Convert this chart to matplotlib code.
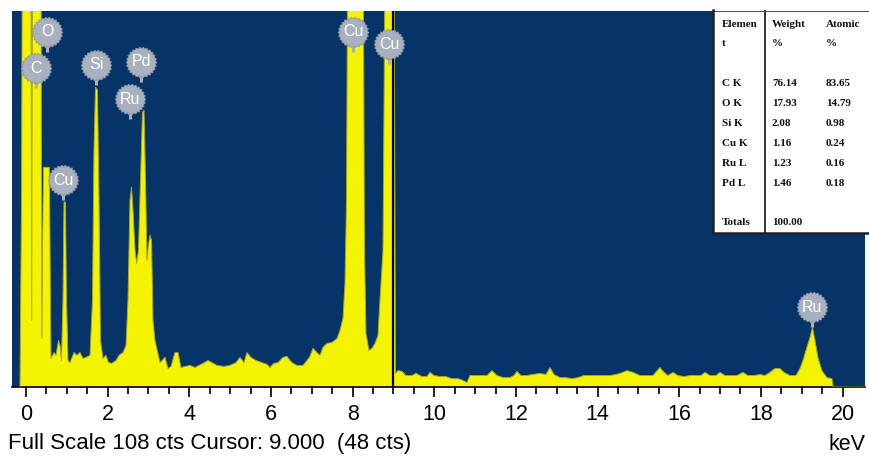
import numpy as np
import matplotlib
matplotlib.use("Agg")
import matplotlib.pyplot as plt
import matplotlib.path as mpath

# ---------------- data ----------------
energy_kev = [-0.147, -0.110, -0.086, 0.120, 0.140, 0.158, 0.367, 0.385, 0.405, 0.430,
              0.522, 0.571, 0.612, 0.686, 0.735, 0.796, 0.833, 0.869, 0.906, 0.931,
              0.967, 0.992, 1.029, 1.078, 1.176, 1.249, 1.323, 1.396, 1.469, 1.568,
              1.629, 1.665, 1.702, 1.751, 1.788, 1.825, 1.886, 1.959, 2.021, 2.106,
              2.204, 2.278, 2.376, 2.449, 2.498, 2.547, 2.584, 2.621, 2.670, 2.711,
              2.755, 2.804, 2.853, 2.890, 2.927, 2.963, 3.000, 3.037, 3.074, 3.110,
              3.159, 3.233, 3.282, 3.331, 3.404, 3.478, 3.551, 3.649, 3.723, 3.796,
              3.894, 4.017, 4.139, 4.335, 4.457, 4.555, 4.678, 4.849, 4.996, 5.143,
              5.241, 5.339, 5.413, 5.511, 5.633, 5.780, 5.902, 5.976, 6.074, 6.172,
              6.294, 6.392, 6.466, 6.539, 6.637, 6.784, 6.882, 6.956, 7.029, 7.127,
              7.201, 7.274, 7.372, 7.494, 7.617, 7.690, 7.764, 7.813, 7.850, 7.886,
              8.254, 8.291, 8.327, 8.401, 8.474, 8.548, 8.621, 8.670, 8.744, 8.805,
              9.013, 9.050, 9.111, 9.209, 9.307, 9.454, 9.552, 9.699, 9.821, 9.895,
              9.993, 10.140, 10.287, 10.433, 10.580, 10.703, 10.801, 10.874, 11.021, 11.168,
              11.291, 11.413, 11.536, 11.683, 11.854, 11.952, 12.025, 12.123, 12.270, 12.417,
              12.589, 12.736, 12.834, 12.932, 13.079, 13.226, 13.373, 13.519, 13.666, 13.813,
              13.960, 14.107, 14.303, 14.450, 14.548, 14.720, 14.867, 15.038, 15.185, 15.357,
              15.528, 15.626, 15.724, 15.846, 15.969, 16.116, 16.263, 16.434, 16.532, 16.630,
              16.752, 16.899, 16.997, 17.120, 17.267, 17.414, 17.561, 17.683, 17.830, 17.977,
              18.099, 18.222, 18.344, 18.467, 18.565, 18.712, 18.859, 18.957, 19.030, 19.104,
              19.202, 19.263, 19.324, 19.397, 19.495, 19.618, 19.740, 19.770, 20.55]
counts = [0.0, 53.6, 140, 140, 19.1, 140, 140, 14.0, 40.0, 63.1,
          63.1, 63.1, 8.2, 9.9, 9.1, 13.4, 11.9, 7.6, 24.9, 53.1,
          53.1, 24.9, 7.6, 7.0, 9.9, 9.1, 9.9, 8.2, 8.5, 9.1,
          24.9, 68.0, 86.1, 85.3, 53.6, 13.4, 8.2, 9.1, 7.0, 6.8,
          7.6, 9.1, 9.9, 11.9, 24.9, 53.6, 57.4, 50.8, 39.3, 35.5,
          39.3, 59.4, 78.9, 79.5, 59.4, 36.4, 40.7, 43.6, 42.1, 19.1,
          13.4, 9.6, 7.0, 7.6, 8.5, 5.3, 5.9, 9.9, 9.9, 5.6,
          5.9, 6.2, 5.6, 6.8, 7.6, 7.0, 6.2, 5.9, 6.2, 7.0,
          8.5, 7.0, 9.9, 8.5, 7.6, 7.0, 6.5, 5.6, 6.8, 7.0,
          8.5, 8.8, 7.6, 6.8, 6.2, 6.2, 7.6, 8.8, 11.1, 9.9,
          9.1, 11.4, 12.5, 12.8, 13.9, 16.2, 19.7, 29.8, 53.6, 140,
          140, 39.3, 15.4, 10.5, 11.1, 12.5, 14.8, 24.9, 39.3, 140,
          140, 3.9, 4.7, 4.5, 3.3, 3.3, 3.9, 3.0, 3.0, 4.2,
          3.3, 3.0, 3.0, 2.4, 2.4, 1.9, 1.3, 3.3, 3.3, 3.3,
          3.3, 4.7, 3.3, 2.7, 2.7, 3.3, 4.5, 3.3, 3.3, 3.6,
          3.9, 3.6, 5.6, 3.6, 2.7, 2.7, 2.4, 2.7, 3.3, 3.3,
          3.3, 3.3, 3.3, 3.6, 3.9, 4.7, 4.2, 3.3, 3.3, 3.3,
          5.6, 4.2, 3.3, 4.2, 3.3, 3.0, 3.3, 3.3, 3.3, 4.2,
          3.3, 3.3, 4.2, 3.3, 3.3, 3.3, 4.2, 3.3, 3.3, 3.6,
          3.3, 4.2, 5.3, 5.3, 4.2, 3.3, 3.3, 5.3, 7.6, 10.5,
          14.2, 17.1, 13.4, 8.5, 4.7, 2.7, 2.4, 0.0, 0.0]

peak_labels = ["C", "O", "Si", "Pd", "Ru", "Cu", "Cu", "Cu", "Ru"]
label_kev = [0.245, 0.514, 1.714, 2.817, 2.547, 0.906, 8.009, 8.890, 19.25]
label_height = [91.6, 102.0, 92.5, 93.4, 82.7, 59.4, 102.0, 98.5, 22.9]

x_ticks = [0, 2, 4, 6, 8, 10, 12, 14, 16, 18, 20]
cursor_kev = 9.0
cursor_counts = 48
full_scale = 108

table_header = [("Elemen", "t"), ("Weight", "%"), ("Atomic", "%")]
table_elements = ["C K", "O K", "Si K", "Cu K", "Ru L", "Pd L"]
table_weight = ["76.14", "17.93", "2.08", "1.16", "1.23", "1.46"]
table_atomic = ["83.65", "14.79", "0.98", "0.24", "0.16", "0.18"]
table_total = "100.00"

sans = "Liberation Sans"
serif = "Liberation Serif"

W, H = 870, 459
def frac(x0, y0, x1, y1):
    return [x0 / W, 1 - y1 / H, (x1 - x0) / W, (y1 - y0) / H]

fig = plt.figure(figsize=(W / 100, H / 100), dpi=100)
fig.patch.set_facecolor("white")

ax = fig.add_axes(frac(12, 11, 865, 387))
ax.set_facecolor("#063468")
ax.set_xlim(-0.343, 20.55)
ax.set_ylim(0, full_scale)

ax.fill_between(energy_kev, counts, 0, color="#f4f400", lw=0, zorder=2)
ax.plot(energy_kev, counts, color="#a6a630", lw=0.7, zorder=3)
ax.axvline(cursor_kev, color="black", lw=1.6, zorder=4)

# peak labels
n = 26
ang = np.linspace(0, 2 * np.pi, 2 * n, endpoint=False)
rad = np.where(np.arange(2 * n) % 2 == 0, 1.0, 0.9)
verts = np.column_stack([rad * np.cos(ang), rad * np.sin(ang)])
gear = mpath.Path(np.vstack([verts, verts[:1]]), closed=True)
stem = 20 / 376 * full_scale
for lab, e, h in zip(peak_labels, label_kev, label_height):
    ax.plot([e, e], [h, h - stem], color="#a9b0bd", lw=2.2, zorder=5, solid_capstyle="butt")
    ax.plot([e], [h], marker=gear, markersize=22, color="#aab1be", mec="#8f97a6",
            mew=0.6, linestyle="none", zorder=6)
    ax.text(e, h, lab, color="white", fontsize=11.5, ha="center", va="center",
            family=sans, zorder=7)

for s in ["left", "right", "top"]:
    ax.spines[s].set_visible(False)
ax.spines["bottom"].set_color("black")
ax.spines["bottom"].set_linewidth(1.2)
ax.set_yticks([])
ax.set_xticks(x_ticks)
ax.set_xticks(np.arange(0, 20.01, 0.5), minor=True)
ax.tick_params(axis="x", which="major", length=7.5, width=1.2, pad=5, labelsize=15.5)
ax.tick_params(axis="x", which="minor", length=5, width=1.2)
for t in ax.get_xticklabels():
    t.set_family(sans)

fig.text(8 / W, 1 - 444 / H,
         f"Full Scale {full_scale} cts Cursor: {cursor_kev:.3f}  ({cursor_counts} cts)",
         ha="left", va="center", fontsize=16, family=sans)
fig.text(866 / W, 1 - 444 / H, "keV", ha="right", va="center", fontsize=15.5, family=sans)

# table
tax = fig.add_axes(frac(713, 10, 870, 233))
tax.set_xlim(713, 870)
tax.set_ylim(233, 10)
tax.set_facecolor("white")
for s in ["right", "top"]:
    tax.spines[s].set_visible(False)
for s in ["left", "bottom"]:
    tax.spines[s].set_linewidth(1.8)
    tax.spines[s].set_color("#222222")
tax.set_xticks([])
tax.set_yticks([])
tax.axvline(765, color="#222222", lw=1.3)
tax.axhline(11, color="#555555", lw=0.8)
col_x = [722, 772, 826]
tk = dict(fontsize=8, family=serif, fontweight="bold", va="center", ha="left", color="#111111")
for cx, (h1, h2) in zip(col_x, table_header):
    tax.text(cx, 24, h1, **tk)
    tax.text(cx, 43, h2, **tk)
for i, (el, w, a) in enumerate(zip(table_elements, table_weight, table_atomic)):
    yy = 83 + 20 * i
    tax.text(col_x[0], yy, el, **tk)
    tax.text(col_x[1], yy, w, **tk)
    tax.text(col_x[2], yy, a, **tk)
tax.text(col_x[0], 222, "Totals", **tk)
tax.text(col_x[1], 222, table_total, **tk)

fig.savefig("out.png", dpi=100, facecolor="white")
